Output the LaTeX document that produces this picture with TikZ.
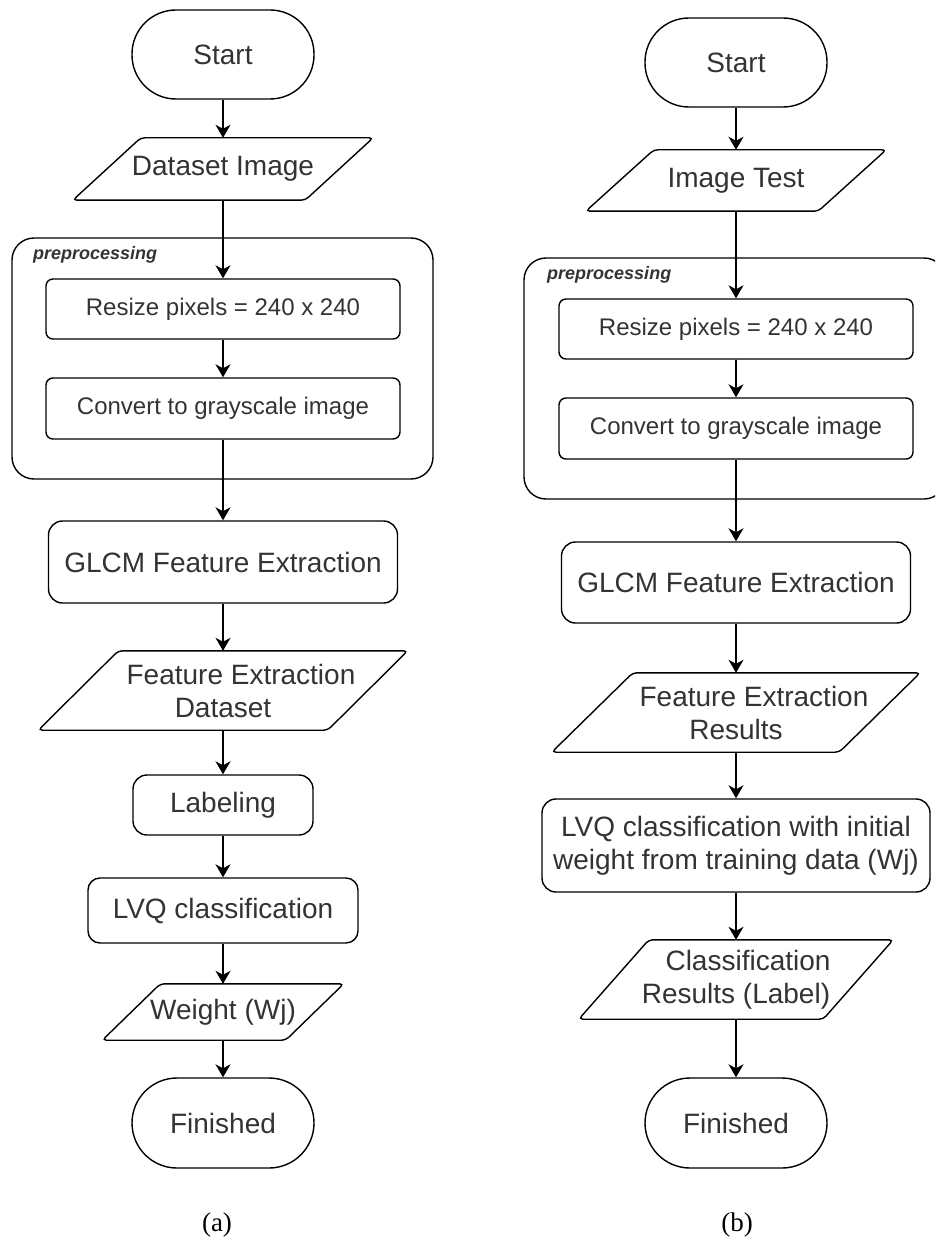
\documentclass[tikz,border=0pt]{standalone}
\usepackage{fontspec}
\setmainfont{Liberation Sans}
\newfontfamily\capfont{Liberation Serif}
\usetikzlibrary{arrows.meta}
\definecolor{inkgray}{HTML}{333333}

% outline of an input/output parallelogram around a text node;
% #1 = node name, #2 = horizontal slant of the sides
\newcommand\ioframe[2]{%
  \draw[outline, rounded corners=4pt]
    ([xshift=-#2/2]#1.south west) -- ([xshift=#2/2]#1.north west) --
    ([xshift=#2/2]#1.north east) -- ([xshift=-#2/2]#1.south east) -- cycle;}

\begin{document}
\begin{tikzpicture}[x=1pt,y=-1pt,
  outline/.style={draw=black, line width=1.4pt},
  txt/.style={text=inkgray, font=\fontsize{28}{33}\selectfont, align=center, inner sep=0pt},
  terminal/.style={txt, outline, rounded corners=44pt, minimum width=182pt, minimum height=89pt},
  process/.style={txt, outline, rounded corners=14pt},
  subproc/.style={txt, outline, rounded corners=7pt, font=\fontsize{24}{28}\selectfont,
                  minimum width=354pt, minimum height=60pt},
  ionode/.style={txt},
  grp/.style={outline, rounded corners=22pt, inner sep=0pt},
  grplabel/.style={text=inkgray, font=\fontsize{18}{20}\selectfont\bfseries\itshape,
                   anchor=west, inner sep=0pt},
  flow/.style={line width=1.4pt, -{Stealth[length=13pt,width=15pt,inset=4pt]}},
  caption/.style={font=\capfont\fontsize{27}{30}\selectfont, text=black, inner sep=0pt}
]
\useasboundingbox (0,0) rectangle (935,1238);
\clip (0,0) rectangle (935,1238);

% ---------- (a) training ----------
\node[grp, minimum width=421pt, minimum height=241pt] (grpA) at (222.5,358.5) {};
\node[grplabel] (lblA) at (33,255) {preprocessing};

\node[terminal] (startA) at (223,54.5) {Start};
\node[ionode, minimum width=232pt, minimum height=62pt] (dsA) at (223,169) {Dataset Image};
\ioframe{dsA}{68}
\node[subproc] (resA) at (223,309) {Resize pixels = 240 x 240};
\node[subproc, minimum height=61pt] (cnvA) at (223,408.5) {Convert to grayscale image};
\node[process, minimum width=349pt, minimum height=82pt] (glcmA) at (223,562) {GLCM Feature Extraction};
\node[ionode, minimum width=289pt, minimum height=79pt] (fedA) at (223,690.5)
  {\hspace*{36pt}Feature Extraction\\Dataset};
\ioframe{fedA}{80}
\node[process, minimum width=180pt, minimum height=60pt] (labA) at (223,805) {Labeling};
\node[process, rounded corners=12pt, minimum width=270pt, minimum height=65pt] (lvqA) at (223,910.5) {LVQ classification};
\node[ionode, minimum width=183pt, minimum height=56pt] (wA) at (223,1012) {Weight (Wj)};
\ioframe{wA}{58}
\node[terminal, minimum height=90pt, rounded corners=45pt] (finA) at (223,1123) {Finished};

\draw[flow] (startA) -- (dsA);
\draw[flow] (dsA) -- (resA);
\draw[flow] (resA) -- (cnvA);
\draw[flow] (cnvA) -- (glcmA);
\draw[flow] (glcmA) -- (fedA);
\draw[flow] (fedA) -- (labA);
\draw[flow] (labA) -- (lvqA);
\draw[flow] (lvqA) -- (wA);
\draw[flow] (wA) -- (finA);

\node[caption] (capA) at (217,1225) {(a)};

% ---------- (b) testing ----------
\node[grp, minimum width=422pt, minimum height=241pt] (grpB) at (735,378.5) {};
\node[grplabel] (lblB) at (547,275) {preprocessing};

\node[terminal] (startB) at (736,62.5) {Start};
\node[ionode, minimum width=232pt, minimum height=61pt] (itB) at (736,180.5) {Image Test};
\ioframe{itB}{68}
\node[subproc] (resB) at (736,329) {Resize pixels = 240 x 240};
\node[subproc, minimum height=61pt] (cnvB) at (736,428.5) {Convert to grayscale image};
\node[process, minimum width=349pt, minimum height=81pt] (glcmB) at (736,582.5) {GLCM Feature Extraction};
\node[ionode, minimum width=287pt, minimum height=79pt] (ferB) at (736,712.5)
  {\hspace*{36pt}Feature Extraction\\Results};
\ioframe{ferB}{81}
\node[process, minimum width=388pt, minimum height=93pt] (lvqB) at (736,845.5)
  {LVQ classification with initial\\weight from training data (Wj)};
\node[ionode, minimum width=244pt, minimum height=79pt] (crB) at (736,979.5)
  {\hspace*{24pt}Classification\\Results (Label)};
\ioframe{crB}{70}
\node[terminal, minimum height=90pt, rounded corners=45pt] (finB) at (736,1123) {Finished};

\draw[flow] (startB) -- (itB);
\draw[flow] (itB) -- (resB);
\draw[flow] (resB) -- (cnvB);
\draw[flow] (cnvB) -- (glcmB);
\draw[flow] (glcmB) -- (ferB);
\draw[flow] (ferB) -- (lvqB);
\draw[flow] (lvqB) -- (crB);
\draw[flow] (crB) -- (finB);

\node[caption] (capB) at (737,1225) {(b)};
\end{tikzpicture}
\end{document}
